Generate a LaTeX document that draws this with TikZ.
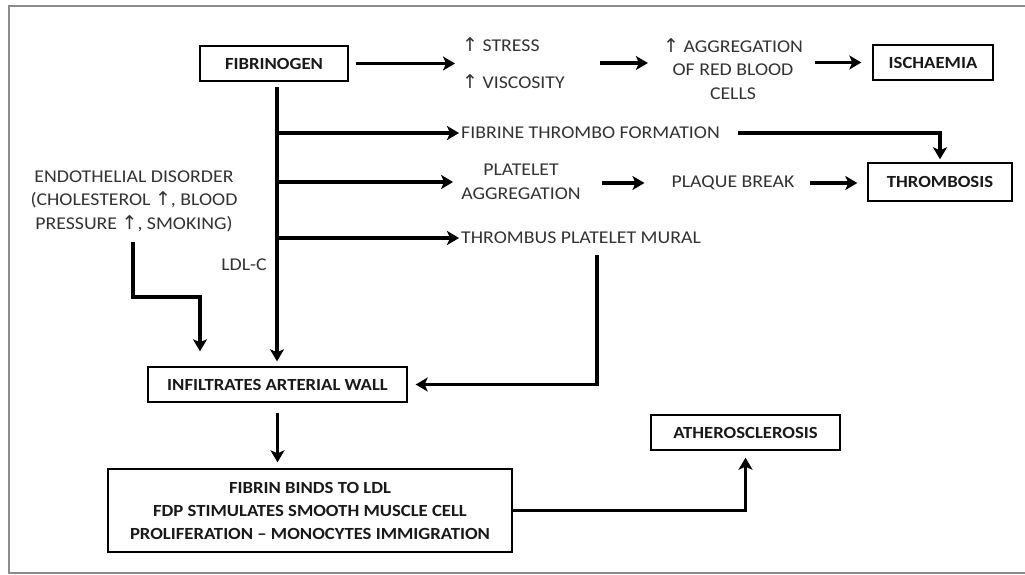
\documentclass[tikz,border=0pt]{standalone}
\usepackage{fontspec}
\setmainfont{Carlito}[FakeStretch=1.1]
\newfontfamily\symfont{DejaVu Sans}
\usetikzlibrary{arrows.meta,positioning}

\newcommand{\upar}{{\symfont\fontsize{19}{19}\selectfont ↑}}

\begin{document}
\begin{tikzpicture}[x=1pt,y=-1pt,
    box/.style={draw,line width=1.4pt,inner sep=0pt,minimum height=35pt,
      font=\bfseries\fontsize{17}{23}\selectfont,text=black!90},
    lbl/.style={inner sep=1pt,align=center,text=black!80,
      font=\fontsize{18}{23.5}\selectfont},
    arr/.style={-{Stealth[length=12pt,width=14pt,inset=3pt]},line width=3.2pt}]
  \useasboundingbox (0,0) rectangle (1025,575);
  \draw[black!45,line width=1.6pt] (9,6) rectangle (1040,573);

  % boxes
  \node[box,minimum width=148pt] (fib) at (274,63.5) {FIBRINOGEN};
  \node[box,minimum width=120pt] (isch) at (933,62.5) {ISCHAEMIA};
  \node[box,minimum width=144pt,minimum height=38pt] (thromb) at (940,182) {THROMBOSIS};
  \node[box,minimum width=259pt] (infil) at (277.5,384.5) {INFILTRATES ARTERIAL WALL};
  \node[box,minimum width=404pt,minimum height=83pt,align=center] (fibrin) at (310,510.5)
    {FIBRIN BINDS TO LDL\\FDP STIMULATES SMOOTH MUSCLE CELL\\PROLIFERATION -- MONOCYTES IMMIGRATION};
  \node[box,minimum width=189pt] (athero) at (745.5,432.5) {ATHEROSCLEROSIS};

  % plain labels
  \node[lbl,anchor=west] (stress) at (461,45) {\upar\ STRESS};
  \node[lbl,anchor=west] (visc) at (461,82) {\upar\ VISCOSITY};
  \node[lbl] (aggr) at (733,69) {\upar\ AGGREGATION\\OF RED BLOOD\\CELLS};
  \node[lbl,anchor=west] (fibform) at (460,133) {FIBRINE THROMBO FORMATION};
  \node[lbl] (plat) at (521,182) {PLATELET\\AGGREGATION};
  \node[lbl] (plaque) at (733,183) {PLAQUE BREAK};
  \node[lbl,anchor=west] (mural) at (460,238) {THROMBUS PLATELET MURAL};
  \node[lbl] (endo) at (134,201)
    {ENDOTHELIAL DISORDER\\(CHOLESTEROL \upar, BLOOD\\PRESSURE \upar, SMOKING)};
  \node[lbl,anchor=east] (ldl) at (268,265) {LDL-C};

  % free ends
  \coordinate (trunk) at (277,87);
  \coordinate (svout) at (600,63);
  \coordinate (muralout) at (597,255);
  \coordinate (endoout) at (133,242);
  \coordinate (endobend) at (200,297);

  % connectors
  \draw[arr,shorten <=7pt,shorten >=6pt] (fib.east) -- (stress.west |- fib.east);
  \draw[arr,shorten >=14pt] (svout) -- (aggr.west |- svout);
  \draw[arr,shorten <=11pt,shorten >=11pt] (aggr.east |- isch.west) -- (isch.west);
  \draw[arr,shorten >=5pt] (trunk) -- (trunk |- infil.north);
  \draw[arr,shorten >=1pt] (trunk |- fibform.west) -- (fibform.west);
  \draw[arr,shorten >=7pt] (trunk |- plat.west) -- (plat.west);
  \draw[arr,shorten >=1pt] (trunk |- mural.west) -- (mural.west);
  \draw[arr,shorten <=17pt,shorten >=3pt] (fibform.east) -| (thromb.north);
  \draw[arr,shorten <=20pt,shorten >=26pt] (plat.east |- plaque.west) -- (plaque.west);
  \draw[arr,shorten <=14pt,shorten >=10pt] (plaque.east) -- (thromb.west |- plaque.east);
  \draw[arr,shorten >=8pt] (muralout) |- (infil.east);
  \draw[arr,shorten >=15pt] (endoout) |- (endobend) -- (endobend |- infil.north);
  \draw[arr,shorten <=10pt,shorten >=6pt] (infil.south) -- (infil.south |- fibrin.north);
  \draw[arr,shorten >=7pt] (fibrin.east) -| (athero.south);
\end{tikzpicture}
\end{document}
